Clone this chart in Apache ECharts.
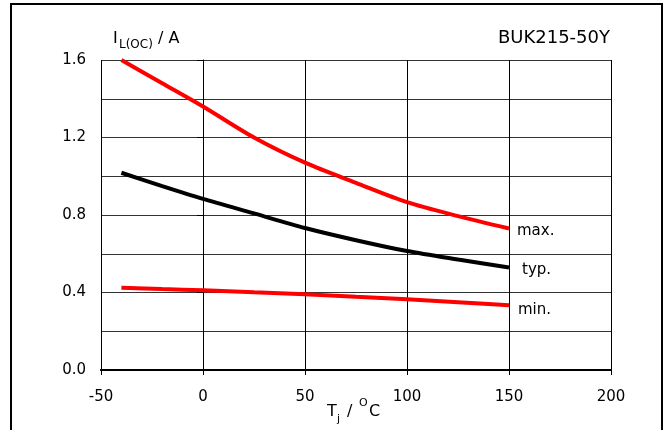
<!DOCTYPE html>
<html>
<head>
<meta charset="utf-8">
<script src="https://cdn.jsdelivr.net/npm/echarts@6/dist/echarts.min.js"></script>
<style>
html,body{margin:0;padding:0;background:#fff;}
#c{width:667px;height:430px;}
</style>
</head>
<body>
<div id="c"></div>
<script>
const temps = [-40, -20, 0, 25, 50, 75, 100, 125, 150];
const maxVals = [1.60, 1.48, 1.36, 1.20, 1.07, 0.966, 0.866, 0.794, 0.730];
const typVals = [1.018, 0.949, 0.883, 0.808, 0.733, 0.670, 0.614, 0.570, 0.529];
const minVals = [0.425, 0.418, 0.411, 0.401, 0.391, 0.378, 0.365, 0.350, 0.334];
const seriesNames = ['max.', 'typ.', 'min.'];

const FONT = 'DejaVu Sans';
const chart = echarts.init(document.getElementById('c'), null, {renderer: 'canvas'});

function pts(vals) { return temps.map((t, i) => [t, vals[i]]); }
function lineSeries(name, vals, color, off) {
  return {
    type: 'line', name: name, data: pts(vals), smooth: 0.3, showSymbol: false,
    xAxisIndex: 0, yAxisIndex: 0,
    lineStyle: {color: color, width: 4},
    endLabel: {show: true, formatter: name, color: '#000', fontSize: 15, fontFamily: FONT, offset: off},
    z: 5
  };
}

chart.setOption({
  animation: false,
  backgroundColor: '#fff',
  grid: {left: 101, right: 56, top: 60, bottom: 60, show: false},
  xAxis: [
    {type: 'value', min: -50, max: 200, interval: 50, position: 'bottom',
     axisLine: {show: true, lineStyle: {color: '#000', width: 2}},
     axisTick: {show: true, length: 5, lineStyle: {color: '#000', width: 1}},
     axisLabel: {color: '#000', fontSize: 15, fontFamily: FONT, margin: 20},
     splitLine: {show: true, lineStyle: {color: '#000', width: 1}}},
    {type: 'value', min: -50, max: 200, interval: 50, position: 'top',
     axisLine: {show: true, lineStyle: {color: '#000', width: 2}},
     axisTick: {show: false}, axisLabel: {show: false}, splitLine: {show: false}}
  ],
  yAxis: [
    {type: 'value', min: 0, max: 1.6, interval: 0.4, position: 'left',
     axisLine: {show: true, lineStyle: {color: '#000', width: 1}},
     axisTick: {show: true, length: 6, lineStyle: {color: '#000', width: 1}},
     axisLabel: {color: '#000', fontSize: 15, fontFamily: FONT, margin: 15, padding: [4, 0, 0, 0],
       formatter: v => v.toFixed(1)},
     splitLine: {show: false}},
    {type: 'value', min: 0, max: 1.6, interval: 0.2, position: 'left',
     axisLine: {show: false}, axisTick: {show: false}, axisLabel: {show: false},
     splitLine: {show: true, lineStyle: {color: '#333', width: 1}}}
  ],
  series: [
    lineSeries(seriesNames[0], maxVals, '#ff0000', [0, 3]),
    lineSeries(seriesNames[1], typVals, '#000000', [5, 3]),
    lineSeries(seriesNames[2], minVals, '#ff0000', [1, 5])
  ],
  graphic: [
    {type: 'rect', shape: {x: 11, y: 4, width: 651, height: 440},
     style: {fill: 'none', stroke: '#000', lineWidth: 2}, z: 10},
    {type: 'text', x: 113, y: 47, style: {text: 'I', font: '16px "DejaVu Sans"', fill: '#000', textVerticalAlign: 'bottom'}},
    {type: 'text', x: 119, y: 51, style: {text: 'L(OC)', font: '12px "DejaVu Sans"', fill: '#000', textVerticalAlign: 'bottom'}},
    {type: 'text', x: 153, y: 47, style: {text: ' / A', font: '16px "DejaVu Sans"', fill: '#000', textVerticalAlign: 'bottom'}},
    {type: 'text', x: 610, y: 47, style: {text: 'BUK215-50Y', font: '18px "DejaVu Sans"', fill: '#000', textAlign: 'right', textVerticalAlign: 'bottom'}},
    {type: 'text', x: 327, y: 420, style: {text: 'T', font: '16px "DejaVu Sans"', fill: '#000', textVerticalAlign: 'bottom'}},
    {type: 'text', x: 337, y: 425, style: {text: 'j', font: '11px "DejaVu Sans"', fill: '#000', textVerticalAlign: 'bottom'}},
    {type: 'text', x: 342, y: 420, style: {text: ' / ', font: '16px "DejaVu Sans"', fill: '#000', textVerticalAlign: 'bottom'}},
    {type: 'text', x: 359, y: 409, style: {text: 'O', font: '11px "DejaVu Sans"', fill: '#000', textVerticalAlign: 'bottom'}},
    {type: 'text', x: 369, y: 420, style: {text: 'C', font: '16px "DejaVu Sans"', fill: '#000', textVerticalAlign: 'bottom'}}
  ]
});
</script>
</body>
</html>
